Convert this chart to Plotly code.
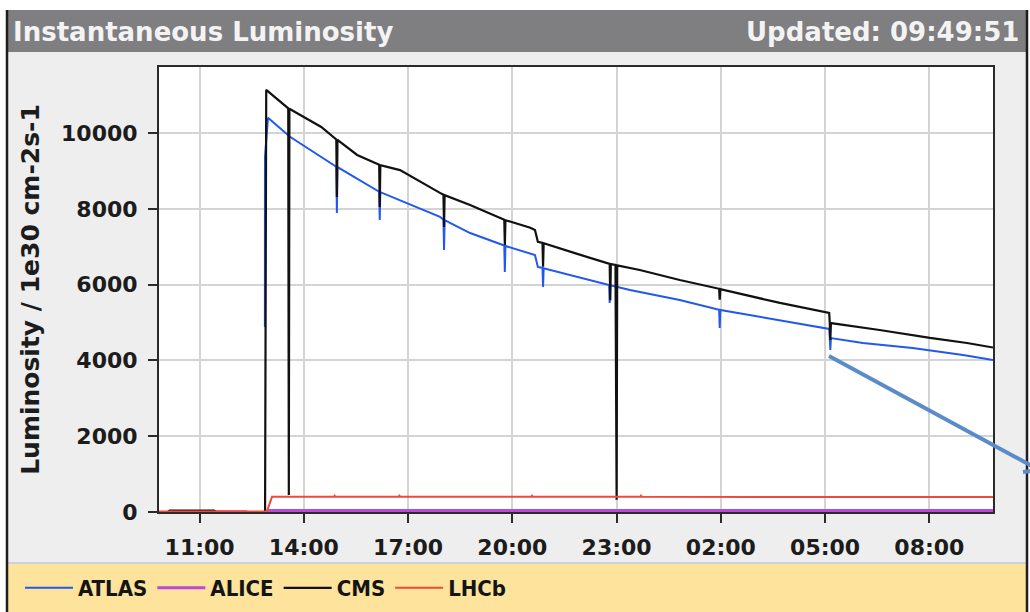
import plotly.graph_objects as go

# ---- 24 h window ending at the last update -------------------------------
DAY1, DAY2 = "2012-05-16", "2012-05-17"
UPDATED = "09:49:51"


def stamp(hhmm):
    """Clock time -> timestamp; times earlier than the update belong to the next morning."""
    return f"{DAY2 if hhmm < UPDATED else DAY1} {hhmm}"


# ---- luminosity per experiment (1e30 cm-2 s-1) ----------------------------
atlas_time = ["09:50", "12:52", "12:52:20", "12:52:40", "12:52:50", "12:58", "13:36",
              "14:56", "14:57", "14:58", "16:10", "16:11", "16:12", "17:55",
              "18:01", "18:02", "18:03", "18:47", "19:46", "19:47", "19:48",
              "20:39", "20:44", "20:52", "20:53", "20:54", "21:52",
              "22:47", "22:48", "22:49", "23:23", "00:49",
              "01:57", "01:58", "01:59", "03:42",
              "05:07", "05:08", "05:09", "05:10", "06:05", "07:31", "08:58", "09:49:50"]
atlas_lumi = [0, 0, None, 4880, 9370, 10400, 9900,
              9110, 7890, 9100, 8450, 7706, 8440, 7790,
              7710, 6914, 7700, 7360, 7030, 6334, 7020,
              6782, 6466, 6440, 5938, 6430, 6200,
              5991, 5516, 5985, 5859, 5595,
              5335, 4856, 5330, 5067,
              4830, 4592, 4275, 4590, 4460, 4328, 4143, 4011]

alice_time = ["11:23", "12:22", "12:40", "12:57", "09:49:50"]
alice_lumi = [5, 5, None, 40, 40]

cms_time = ["09:50", "10:05", "10:08", "11:25", "11:28", "12:53", "12:55", "12:58",
            "13:33", "13:34", "13:35", "13:53", "14:30",
            "14:56", "14:57", "14:58", "15:32", "16:10", "16:11", "16:12", "16:46",
            "17:55", "18:01", "18:02", "18:03", "18:47", "19:46", "19:47", "19:48",
            "20:31", "20:39", "20:44", "20:52", "20:53", "20:54", "21:52",
            "22:48", "22:49", "22:50", "22:58", "22:59", "23:00", "23:01",
            "23:40", "00:49", "01:57", "01:58", "01:59", "03:42",
            "05:07", "05:08", "05:09", "05:10", "06:34", "08:01", "09:05", "09:49:50"]
cms_lumi = [0, 0, 40, 40, 0, 0, 11140, 11100,
            10650, 450, 10640, 10480, 10160,
            9830, 8310, 9820, 9420, 9160, 8050, 9150, 9020,
            8420, 8370, 7520, 8360, 8100, 7710, 7046, 7700,
            7500, 7440, 7130, 7100, 6470, 7090, 6810,
            6548, 5590, 6540, 6520, 1560, 320, 6505,
            6386, 6122, 5890, 5600, 5880, 5516,
            5255, 4990, 4540, 4985, 4803, 4592, 4460, 4340]

lhcb_time = ["09:50", "12:56", "13:05", "14:52", "14:53", "14:55", "16:44", "16:45", "16:47",
             "20:33", "20:34", "20:36", "23:41", "23:42", "23:44", "09:49:50"]
lhcb_lumi = [10, 10, 400, 400, 430, 400, 400, 430, 400,
             400, 430, 400, 400, 430, 400, 395]

experiments = ["ATLAS", "ALICE", "CMS", "LHCb"]
colors = {"ATLAS": "#2358ef", "ALICE": "#b84ad6", "CMS": "#111111", "LHCb": "#f0493a"}
widths = {"ATLAS": 2, "ALICE": 3, "CMS": 2.2, "LHCb": 2}
series = {
    "ATLAS": (atlas_time, atlas_lumi),
    "ALICE": (alice_time, alice_lumi),
    "CMS": (cms_time, cms_lumi),
    "LHCb": (lhcb_time, lhcb_lumi),
}

y_ticks = [0, 2000, 4000, 6000, 8000, 10000]
x_tick_start = "11:00"

# ---- page geometry (pixels) -----------------------------------------------
W, H = 1030, 612
PL, PR, PT, PB = 159, 993, 67, 512        # plot-area edges


def px(x):
    return (x - PL) / (PR - PL)


def py(y):
    return (PB - y) / (PB - PT)


fig = go.Figure()
for name in experiments:
    t, v = series[name]
    fig.add_trace(go.Scatter(
        x=[stamp(s) for s in t], y=v, name=name, mode="lines",
        line=dict(color=colors[name], width=widths[name]),
        connectgaps=False, hoverinfo="skip",
    ))

tick_font = dict(family="DejaVu Sans", size=22, color="#1c1c1c", weight="bold")

fig.update_xaxes(
    range=[stamp(UPDATED), f"{DAY2} {UPDATED}"],
    tickformat="%H:%M", tick0=stamp(x_tick_start), dtick=3 * 3600 * 1000,
    showgrid=True, gridcolor="#d4d4d4", gridwidth=2,
    showline=True, linecolor="#2a2a2a", linewidth=2, mirror=True,
    ticks="outside", ticklen=9, tickwidth=2, tickcolor="#2a2a2a",
    tickfont=tick_font, ticklabelstandoff=6, zeroline=False,
)
fig.update_yaxes(
    range=[0, (PB - PT) * 10000 / 379], tickvals=y_ticks,
    ticktext=[str(v) for v in y_ticks],
    showgrid=True, gridcolor="#d4d4d4", gridwidth=2,
    showline=True, linecolor="#2a2a2a", linewidth=2, mirror=True,
    ticks="outside", ticklen=9, tickwidth=2, tickcolor="#2a2a2a",
    tickfont=tick_font, ticklabelstandoff=6, zeroline=False,
    title=dict(text="Luminosity / 1e30 cm-2s-1", standoff=14,
               font=dict(family="DejaVu Sans", size=25, color="#1c1c1c", weight="bold")),
)

# widget chrome: frame, title bar and legend band
shapes = [
    dict(type="rect", x0=px(0), x1=px(W), y0=py(0), y1=py(10),
         fillcolor="white", line_width=0),
    dict(type="rect", x0=px(0), x1=px(6), y0=py(0), y1=py(H),
         fillcolor="white", line_width=0),
    dict(type="rect", x0=px(1028), x1=px(W), y0=py(0), y1=py(H),
         fillcolor="white", line_width=0),
    dict(type="rect", x0=px(6), x1=px(1028), y0=py(10), y1=py(52),
         fillcolor="#7f7e80", line_width=0),
    dict(type="rect", x0=px(6), x1=px(1028), y0=py(563), y1=py(H),
         fillcolor="#fde39b", line_width=0),
    dict(type="line", x0=px(6), x1=px(1028), y0=py(563), y1=py(563),
         line=dict(color="#c9d2de", width=2)),
    dict(type="line", x0=px(7), x1=px(7), y0=py(10), y1=py(H),
         line=dict(color="#1e1e1e", width=2.5)),
    dict(type="line", x0=px(1027), x1=px(1027), y0=py(10), y1=py(H),
         line=dict(color="#1e1e1e", width=2.5)),
    # pointer line drawn over the chart
    dict(type="line", x0=px(829), y0=py(356), x1=px(1032), y1=py(466),
         line=dict(color="#5b8cc8", width=4)),
    dict(type="line", x0=px(1023), y0=py(472), x1=px(1032), y1=py(471),
         line=dict(color="#5b8cc8", width=4)),
]
for s in shapes:
    s.update(xref="paper", yref="paper", layer="above")

bar_font = dict(family="DejaVu Sans", size=26, color="#f3f3f3", weight="bold")
annotations = [
    dict(text="Instantaneous Luminosity", x=px(11), y=py(32), xanchor="left", yanchor="middle",
         font=bar_font, showarrow=False),
    dict(text="Updated: 09:49:51", x=px(1021), y=py(32), xanchor="right", yanchor="middle",
         font=bar_font, showarrow=False),
]
for a in annotations:
    a.update(xref="paper", yref="paper")

fig.update_layout(
    width=W, height=H,
    margin=dict(l=PL, r=W - PR, t=PT, b=H - PB, autoexpand=False),
    paper_bgcolor="#eeeeee", plot_bgcolor="white",
    shapes=shapes, annotations=annotations,
    showlegend=True,
    legend=dict(
        orientation="h", xref="container", yref="container",
        x=20 / W, y=1 - 588 / H, xanchor="left", yanchor="middle",
        bgcolor="rgba(0,0,0,0)", itemwidth=48,
        font=dict(family="DejaVu Sans Condensed, Liberation Sans Narrow, DejaVu Sans",
                  size=22, color="#141414", weight="bold"),
    ),
)

fig.write_html("out.html")
